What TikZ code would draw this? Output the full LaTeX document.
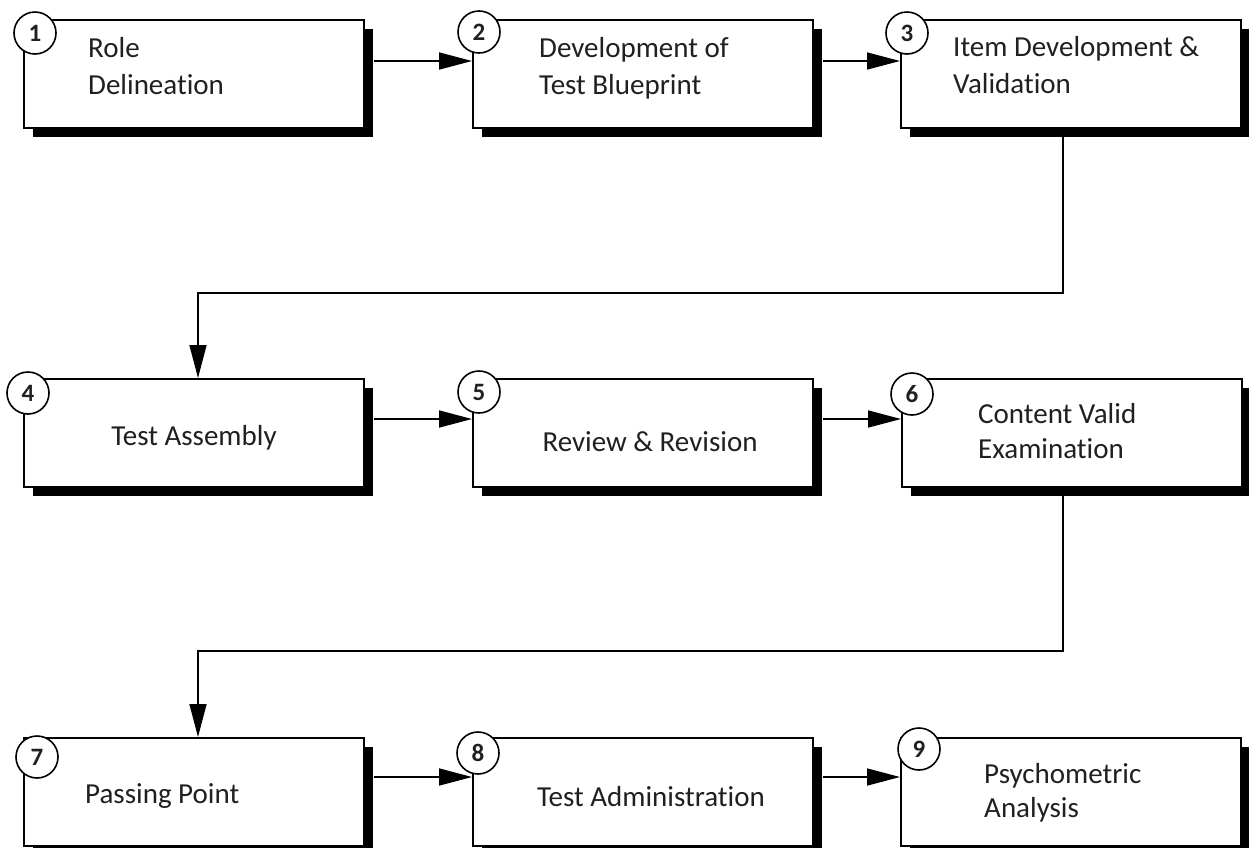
\documentclass[tikz,border=0pt]{standalone}
\usepackage{fontspec}
\setmainfont{Carlito}[Ligatures={NoCommon}]
\usetikzlibrary{shadows,arrows.meta,calc}
\definecolor{txt}{RGB}{35,31,32}
\tikzset{
  stagebox/.style={draw=black, line width=1.6pt, fill=white, rectangle, inner sep=0pt,
    minimum width=340pt, minimum height=108pt, anchor=north west,
    drop shadow={shadow xshift=9pt, shadow yshift=-9pt, fill=black, opacity=1}},
  numcircle/.style={draw=black, line width=1.6pt, fill=white, circle, inner sep=0pt,
    minimum size=42pt, font=\fontsize{25}{30}\selectfont\bfseries, text=txt},
  label/.style={inner sep=0pt, font=\fontsize{29}{35}\selectfont, text=txt},
  flow/.style={line width=1.6pt, -{Triangle[length=33pt,width=17pt]}},
}
\begin{document}
\begin{tikzpicture}[x=1pt,y=-1pt]
\useasboundingbox (0,0) rectangle (1249,847);

% boxes
\node[stagebox] (b1) at (23,19) {};
\node[stagebox] (b2) at (472,19) {};
\node[stagebox] (b3) at (900,19) {};
\node[stagebox] (b4) at (23,378) {};
\node[stagebox] (b5) at (472,378) {};
\node[stagebox] (b6) at (901,378) {};
\node[stagebox] (b7) at (23,737) {};
\node[stagebox] (b8) at (472,737) {};
\node[stagebox] (b9) at (900,737) {};

% texts
\node[label, anchor=base west] (t1a) at (88,57) {Role};
\node[label, anchor=base west] (t1b) at (88,94) {Delineation};
\node[label, anchor=base west] (t2a) at (539,57) {Development of};
\node[label, anchor=base west] (t2b) at (539,94) {Test Blueprint};
\node[label, anchor=base west] (t3a) at (953,56) {Item Development \&};
\node[label, anchor=base west] (t3b) at (953,93) {Validation};
\node[label, anchor=base] (t4) at (194,445) {Test Assembly};
\node[label, anchor=base] (t5) at (650,451) {Review \& Revision};
\node[label, anchor=base west] (t6a) at (978,423) {Content Valid};
\node[label, anchor=base west] (t6b) at (978,458) {Examination};
\node[label, anchor=base west] (t7) at (85,803) {Passing Point};
\node[label, anchor=base] (t8) at (651,806) {Test Administration};
\node[label, anchor=base west] (t9a) at (984,783) {Psychometric};
\node[label, anchor=base west] (t9b) at (984,817) {Analysis};

% connectors
\draw[flow] ($(b1.north east)+(9,42)$) -- ($(b2.north west)+(0,42)$);
\draw[flow] ($(b2.north east)+(9,42)$) -- ($(b3.north west)+(0,42)$);
\draw[flow] ($(b4.north east)+(9,41)$) -- ($(b5.north west)+(0,41)$);
\draw[flow] ($(b5.north east)+(9,41)$) -- ($(b6.north west)+(0,41)$);
\draw[flow] ($(b7.north east)+(9,40)$) -- ($(b8.north west)+(0,40)$);
\draw[flow] ($(b8.north east)+(9,40)$) -- ($(b9.north west)+(0,40)$);

\coordinate (k1) at (1063,293);
\coordinate (k2) at (198,293);
\coordinate (k3) at (1063,651);
\coordinate (k4) at (198,651);
\draw[flow] ($(b3.south west)!(k1)!(b3.south east)$) -- (k1) -- (k2) -- (k2 |- b4.north);
\draw[flow] ($(b6.south west)!(k3)!(b6.south east)$) -- (k3) -- (k4) -- (k4 |- b7.north);

% number circles
\node[numcircle] (c1) at (35,33) {1};
\node[numcircle] (c2) at (479,32) {2};
\node[numcircle] (c3) at (907,33) {3};
\node[numcircle] (c4) at (28,393) {4};
\node[numcircle] (c5) at (479,392) {5};
\node[numcircle] (c6) at (912,394) {6};
\node[numcircle] (c7) at (37,757) {7};
\node[numcircle] (c8) at (478,753) {8};
\node[numcircle] (c9) at (919,749) {9};
\end{tikzpicture}
\end{document}
